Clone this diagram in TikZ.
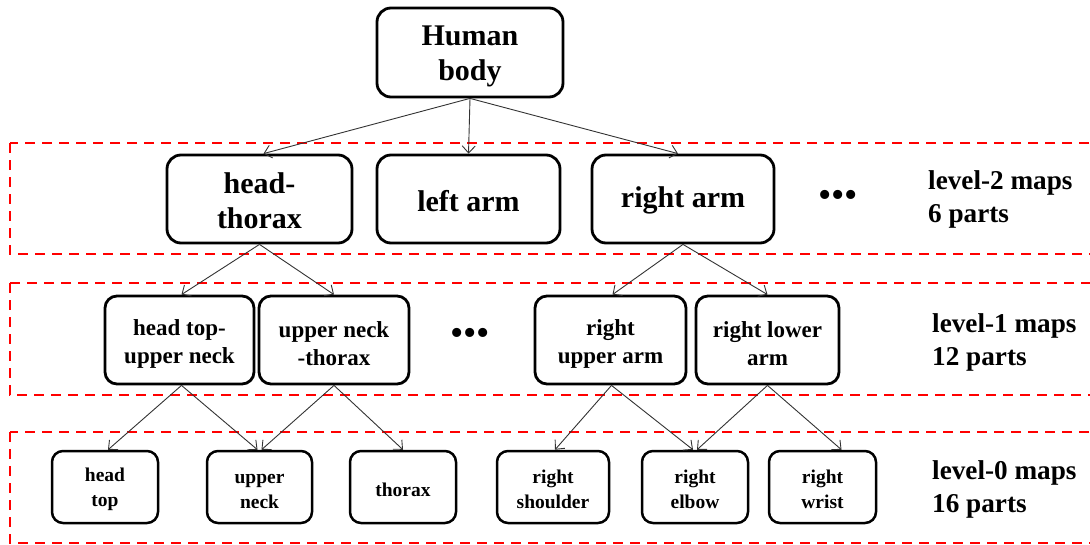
\documentclass[tikz,border=0pt]{standalone}
\usepackage{fontspec}
\setmainfont{Liberation Serif}
\usetikzlibrary{arrows.meta,calc}
\newcommand\dn[1]{\rule{0pt}{#1}}
\tikzset{
  box/.style={draw=black, line width=2.8pt, rounded corners=14pt, align=center, inner sep=0pt, font=\bfseries},
  big/.style={box, font=\fontsize{30}{35}\selectfont\bfseries},
  mid/.style={box, rounded corners=12pt, font=\fontsize{23}{28}\selectfont\bfseries, minimum height=88pt},
  small/.style={box, line width=2.5pt, rounded corners=11pt, font=\fontsize{19.5}{25}\selectfont\bfseries, minimum height=72pt},
  conn/.style={draw=black!80, line width=0.9pt, -{Straight Barb[length=7pt,width=13pt,line width=0.9pt]}},
  lvl/.style={anchor=west, align=left, inner sep=0pt, font=\fontsize{27.2}{33}\selectfont\bfseries},
  dots/.style={inner sep=0pt, font=\fontsize{38}{38}\selectfont},
  reddash/.style={draw=red, line width=2.4pt, dash pattern=on 10pt off 7pt}
}
\begin{document}
\begin{tikzpicture}[x=1pt,y=-1pt]
\useasboundingbox (0,0) rectangle (1090,544);
% level frames
\draw[reddash] (10,143) rectangle (1110,254);
\draw[reddash] (10,283) rectangle (1110,395);
\draw[reddash] (10,432) rectangle (1110,543);
% root
\node[big, minimum width=186pt, minimum height=89pt] (hb) at (470,52.5) {\dn{28pt}Human\\body};
% level 2
\node[big, minimum width=185pt, minimum height=88pt] (ht) at (259.5,199) {\dn{24.5pt}head-\\thorax};
\node[big, minimum width=183pt, minimum height=88pt] (la) at (468.5,199) {\dn{24.5pt}left arm};
\node[big, minimum width=182pt, minimum height=88pt] (ra) at (683,199) {\dn{24.5pt}right arm};
\node[dots] (d2) at (838,199) {•••};
\node[lvl] (t2) at (928,199.5) {level-2 maps\\6 parts};
% level 1
\node[mid, minimum width=149pt] (htun) at (179.5,340) {\dn{23.5pt}head top-\\upper neck};
\node[mid, minimum width=150pt] (unt) at (334,340) {\dn{23.5pt}upper neck\\-thorax};
\node[dots] (d1) at (470,337) {•••};
\node[mid, minimum width=151pt] (rua) at (610.5,340) {\dn{23.5pt}right\\upper arm};
\node[mid, minimum width=143pt] (rla) at (767.5,340) {\dn{23.5pt}right lower\\arm};
\node[lvl] (t1) at (932,342) {level-1 maps\\12 parts};
% level 0
\node[small, minimum width=106pt] (htop) at (105,487) {\dn{19pt}head\\top};
\node[small, minimum width=105pt] (un) at (259.5,487) {\dn{19pt}upper\\neck};
\node[small, minimum width=106pt] (th) at (403,487) {\dn{19pt}thorax};
\node[small, minimum width=112pt] (rs) at (553,487) {\dn{19pt}right\\shoulder};
\node[small, minimum width=106pt] (re) at (695,487) {\dn{19pt}right\\elbow};
\node[small, minimum width=107pt] (rw) at (822.5,487) {\dn{19pt}right\\wrist};
\node[lvl] (t0) at (932,489.5) {level-0 maps\\16 parts};
% connectors
\draw[conn] (hb.south) -- ([xshift=4pt]ht.north);
\draw[conn] (hb.south) -- (la.north);
\draw[conn] (hb.south) -- ([xshift=-5pt]ra.north);
\draw[conn] (ht.south) -- ([xshift=2pt]htun.north);
\draw[conn] (ht.south) -- (unt.north);
\draw[conn] (ra.south) -- ([xshift=2pt]rua.north);
\draw[conn] (ra.south) -- (rla.north);
\draw[conn] ([xshift=2pt]htun.south) -- ([xshift=3pt]htop.north);
\draw[conn] ([xshift=2pt]htun.south) -- ([xshift=-2pt]un.north);
\draw[conn] (unt.south) -- ([xshift=2pt]un.north);
\draw[conn] (unt.south) -- (th.north);
\draw[conn] ([xshift=1pt]rua.south) -- ([xshift=2pt]rs.north);
\draw[conn] ([xshift=1pt]rua.south) -- ([xshift=-2pt]re.north);
\draw[conn] (rla.south) -- ([xshift=2pt]re.north);
\draw[conn] (rla.south) -- ([xshift=19pt]rw.north);
\end{tikzpicture}
\end{document}
